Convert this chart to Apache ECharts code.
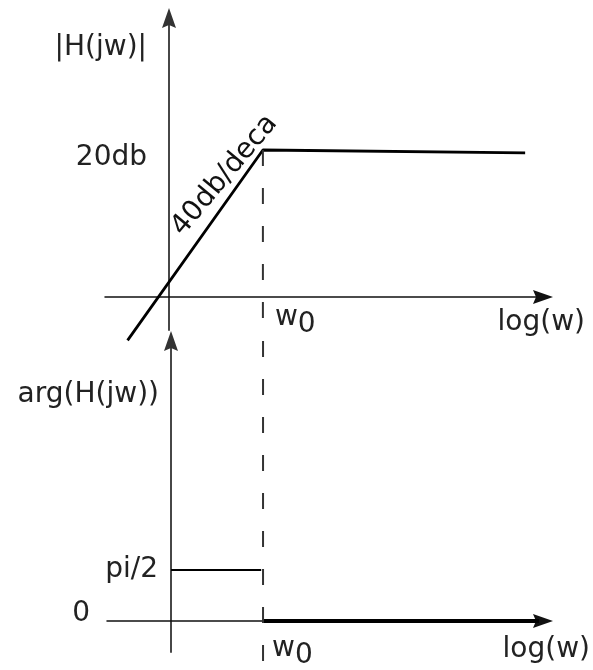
<!DOCTYPE html>
<html>
<head>
<meta charset="utf-8">
<script src="https://cdn.jsdelivr.net/npm/echarts@6/dist/echarts.min.js"></script>
<style>
  html, body { margin: 0; padding: 0; background: #fff; }
</style>
</head>
<body>
<!-- Bode sketch: magnitude on top, phase below -->
<div id="main" style="width: 593px;height:670px;"></div>
<script>
// x is log(w), in decades, w0 sits at 1
var w0 = 1;
var magW = [-0.44, 1, 3.79];
var magDb = [-5.9, 20, 19.6];
var phaseLowW = [0, 0.98];
var phaseLowVal = [Math.PI / 2, Math.PI / 2];
var phaseHighW = [1, 4.0];
var phaseHighVal = [0, 0];
var magTicks = [20];
var magTickLabels = ["20db"];
var phaseTicks = [0, Math.PI / 2];
var phaseTickLabels = ["0", "pi/2"];
var slopeText = "40db/deca";

var FONT = "DejaVu Sans";
var TXT = "#222";

function zip(a, b) {
  return a.map(function (v, i) { return [v, b[i]]; });
}

// axis ranges (arrow symbols are centred on the axis end)
var topX = [-0.68, 3.98], topY = [-4.49, 37.96];
var botX = [-0.696, 4.043], botY = [-0.955, 8.62];

var w0Rich = {
  w: { fontSize: 28, fontFamily: FONT, color: TXT, lineHeight: 28, verticalAlign: "top" },
  s: { fontSize: 28, fontFamily: FONT, color: TXT, lineHeight: 28, verticalAlign: "top", padding: [7, 0, 0, 0] }
};

// arrow head with a small notch, pointing up before rotation
var ARROW = "path://M7,0L14,20L7,17L0,20Z";

var arrowLine = function (color, width) {
  return {
    onZero: false,
    symbol: ["none", ARROW], symbolSize: [22, 20],
    lineStyle: { color: color, width: width }
  };
};

var myChart = echarts.init(document.getElementById("main"));

var option = {
  animation: false,
  textStyle: { fontFamily: FONT, color: TXT },
  grid: [
    { left: 105, top: 18, width: 438, height: 312, outerBoundsMode: "none" },
    { left: 107, top: 341, width: 436, height: 311, outerBoundsMode: "none" }
  ],
  xAxis: [
    {
      gridIndex: 0, type: "value", min: topX[0], max: topX[1],
      position: "bottom", offset: -33, // sits on 0 dB
      name: "log(w)", nameLocation: "end", nameGap: 42,
      nameTextStyle: { fontSize: 28, fontFamily: FONT, color: TXT, align: "right", verticalAlign: "top", lineHeight: 52 },
      axisLine: arrowLine("#111", 1.5),
      axisTick: { show: false },
      splitLine: { show: false },
      axisLabel: {
        customValues: [w0], align: "left", margin: 7, padding: [0, 0, 0, 12],
        formatter: function () { return "{w|w}{s|0}"; }, rich: w0Rich
      }
    },
    {
      gridIndex: 1, type: "value", min: botX[0], max: botX[1],
      position: "bottom", offset: -31, // sits on phase 0
      name: "log(w)", nameLocation: "end", nameGap: 47,
      nameTextStyle: { fontSize: 28, fontFamily: FONT, color: TXT, align: "right", verticalAlign: "top", lineHeight: 58 },
      axisLine: arrowLine("#111", 1.5),
      axisTick: { show: false },
      splitLine: { show: false },
      axisLabel: {
        customValues: [w0], align: "left", margin: 14, padding: [0, 0, 0, 9],
        formatter: function () { return "{w|w}{s|0}"; }, rich: w0Rich
      }
    }
  ],
  yAxis: [
    {
      gridIndex: 0, type: "value", min: topY[0], max: topY[1],
      position: "left", offset: -64, // sits on log(w) = 0
      name: "|H(jw)|", nameLocation: "end", nameGap: -30,
      nameTextStyle: { fontSize: 28, fontFamily: FONT, color: TXT, align: "right", verticalAlign: "middle", padding: [0, 22, 0, 0] },
      axisLine: arrowLine("#333", 1.8),
      axisTick: { show: false },
      splitLine: { show: false },
      axisLabel: {
        customValues: magTicks, margin: 22, fontSize: 28, color: TXT,
        verticalAlign: "top", lineHeight: 16,
        formatter: function (v) { return magTickLabels[magTicks.indexOf(v)]; }
      }
    },
    {
      gridIndex: 1, type: "value", min: botY[0], max: botY[1],
      position: "left", offset: -64,
      name: "arg(H(jw))", nameLocation: "end", nameGap: -54,
      nameTextStyle: { fontSize: 28, fontFamily: FONT, color: TXT, align: "right", verticalAlign: "middle", padding: [0, 12, 0, 0] },
      axisLine: arrowLine("#333", 1.8),
      axisTick: { show: false },
      splitLine: { show: false },
      axisLabel: {
        customValues: [phaseTicks[1]], margin: 13, fontSize: 28, color: TXT,
        formatter: function () { return phaseTickLabels[1]; }
      }
    },
    {
      // only carries the "0" at the left end of the phase axis
      gridIndex: 1, type: "value", min: botY[0], max: botY[1], position: "left",
      axisLine: { show: false, onZero: false },
      axisTick: { show: false },
      splitLine: { show: false },
      axisLabel: {
        customValues: [phaseTicks[0]], margin: 17, fontSize: 28, color: TXT,
        verticalAlign: "bottom", lineHeight: 14,
        formatter: function () { return phaseTickLabels[0]; }
      }
    }
  ],
  series: [
    {
      // magnitude asymptotes
      type: "line", xAxisIndex: 0, yAxisIndex: 0,
      data: zip(magW, magDb),
      symbol: "none", clip: false,
      lineStyle: { color: "#000", width: 2.8 }
    },
    {
      type: "line", xAxisIndex: 0, yAxisIndex: 0,
      data: [[w0, magDb[1]], [w0, topY[0]]],
      symbol: "none", clip: false,
      lineStyle: { color: "#333", width: 2, type: [16, 22] }
    },
    {
      // slope text next to the rising part, anchored at the corner
      type: "scatter", xAxisIndex: 0, yAxisIndex: 0,
      data: [[magW[1], magDb[1]]],
      symbolSize: 0,
      itemStyle: { opacity: 1 },
      label: {
        show: true, position: "inside", formatter: slopeText,
        rotate: 50, offset: [-44, -13],
        fontSize: 28, fontFamily: FONT, color: "#111", opacity: 1,
        textBorderWidth: 0, textBorderColor: "transparent"
      }
    },
    {
      type: "line", xAxisIndex: 1, yAxisIndex: 1,
      data: zip(phaseLowW, phaseLowVal),
      symbol: "none", clip: false,
      lineStyle: { color: "#000", width: 2 }
    },
    {
      type: "line", xAxisIndex: 1, yAxisIndex: 1,
      data: zip(phaseHighW, phaseHighVal),
      symbol: "none", clip: false,
      lineStyle: { color: "#000", width: 4 }
    },
    {
      type: "line", xAxisIndex: 1, yAxisIndex: 1,
      data: [[w0, botY[1]], [w0, -1.51]],
      symbol: "none", clip: false,
      lineStyle: { color: "#333", width: 2, type: [16, 22] }
    }
  ]
};

myChart.setOption(option);
</script>
</body>
</html>
